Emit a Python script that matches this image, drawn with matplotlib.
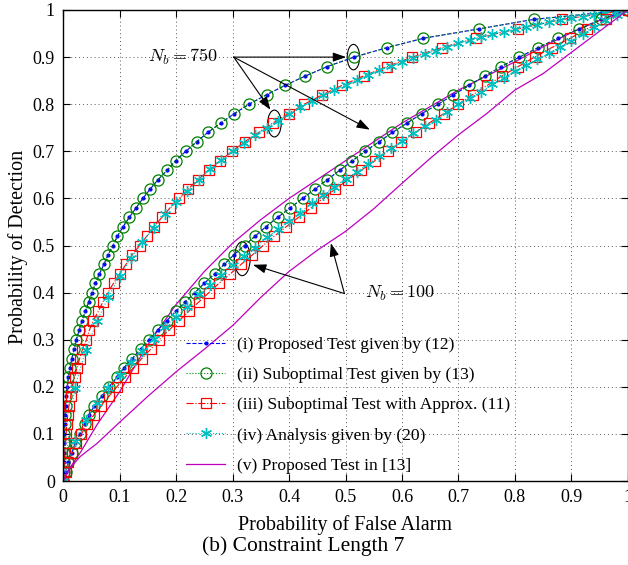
import matplotlib
matplotlib.use("Agg")
import matplotlib.pyplot as plt
from matplotlib.patches import Ellipse

plt.rcParams['font.family'] = ['Liberation Serif', 'DejaVu Serif']
plt.rcParams['mathtext.fontset'] = 'cm'

# Pd levels used by tests (i)-(iii); Pfa levels used by analysis (iv)
levels = [0.00, 0.02, 0.04, 0.06, 0.08, 0.10, 0.12, 0.14, 0.16, 0.18,
          0.20, 0.22, 0.24, 0.26, 0.28, 0.30, 0.32, 0.34, 0.36, 0.38,
          0.40, 0.42, 0.44, 0.46, 0.48, 0.50, 0.52, 0.54, 0.56, 0.58,
          0.60, 0.62, 0.64, 0.66, 0.68, 0.70, 0.72, 0.74, 0.76, 0.78,
          0.80, 0.82, 0.84, 0.86, 0.88, 0.90, 0.92, 0.94, 0.96, 0.98, 1.00]

# Nb = 750
pfa_prop_750 = [0.000, 0.0005, 0.001, 0.001, 0.0015, 0.002, 0.0025, 0.003, 0.004, 0.005,
                0.007, 0.009, 0.012, 0.015, 0.019, 0.023, 0.028, 0.033, 0.039, 0.045,
                0.051, 0.057, 0.064, 0.072, 0.079, 0.088, 0.096, 0.106, 0.117, 0.129,
                0.141, 0.154, 0.168, 0.184, 0.199, 0.217, 0.236, 0.256, 0.279, 0.303,
                0.329, 0.360, 0.393, 0.429, 0.468, 0.515, 0.573, 0.638, 0.737, 0.833, 1.000]
pfa_appr_750 = [0.000, 0.001, 0.002, 0.003, 0.004, 0.005, 0.006, 0.008, 0.010, 0.013,
                0.016, 0.020, 0.024, 0.029, 0.034, 0.041, 0.046, 0.053, 0.062, 0.070,
                0.079, 0.089, 0.100, 0.111, 0.122, 0.135, 0.148, 0.160, 0.175, 0.189,
                0.205, 0.221, 0.239, 0.258, 0.278, 0.299, 0.321, 0.346, 0.371, 0.399,
                0.427, 0.459, 0.494, 0.532, 0.574, 0.618, 0.670, 0.731, 0.806, 0.884, 1.000]
pd_anal_750 = [0.000, 0.198, 0.278, 0.340, 0.391, 0.436, 0.473, 0.507, 0.537, 0.566,
               0.593, 0.615, 0.640, 0.662, 0.681, 0.700, 0.717, 0.734, 0.750, 0.765,
               0.779, 0.793, 0.806, 0.819, 0.830, 0.841, 0.852, 0.862, 0.872, 0.881,
               0.890, 0.899, 0.907, 0.914, 0.922, 0.929, 0.936, 0.942, 0.948, 0.954,
               0.959, 0.964, 0.969, 0.974, 0.978, 0.982, 0.986, 0.990, 0.994, 0.997, 1.000]

# Nb = 100
pfa_prop_100 = [0.000, 0.004, 0.009, 0.015, 0.021, 0.029, 0.038, 0.046, 0.055, 0.068,
                0.081, 0.095, 0.107, 0.122, 0.137, 0.152, 0.167, 0.183, 0.199, 0.216,
                0.233, 0.250, 0.268, 0.285, 0.302, 0.321, 0.340, 0.359, 0.380, 0.402,
                0.424, 0.446, 0.468, 0.490, 0.512, 0.535, 0.559, 0.583, 0.609, 0.635,
                0.664, 0.691, 0.719, 0.747, 0.776, 0.808, 0.841, 0.876, 0.914, 0.953, 1.000]
pfa_appr_100 = [0.000, 0.004, 0.009, 0.016, 0.023, 0.032, 0.042, 0.054, 0.067, 0.081,
                0.095, 0.109, 0.124, 0.139, 0.155, 0.170, 0.187, 0.205, 0.222, 0.240,
                0.258, 0.276, 0.296, 0.315, 0.335, 0.354, 0.374, 0.395, 0.417, 0.439,
                0.460, 0.482, 0.505, 0.528, 0.552, 0.575, 0.599, 0.624, 0.648, 0.674,
                0.700, 0.725, 0.751, 0.777, 0.806, 0.835, 0.865, 0.898, 0.928, 0.962, 1.000]
pd_anal_100 = [0.000, 0.085, 0.130, 0.166, 0.198, 0.226, 0.253, 0.277, 0.301, 0.328,
               0.349, 0.370, 0.396, 0.416, 0.437, 0.458, 0.478, 0.495, 0.517, 0.534,
               0.552, 0.570, 0.590, 0.607, 0.624, 0.641, 0.657, 0.673, 0.690, 0.706,
               0.722, 0.739, 0.753, 0.767, 0.784, 0.800, 0.814, 0.826, 0.842, 0.856,
               0.870, 0.883, 0.895, 0.908, 0.921, 0.935, 0.950, 0.964, 0.978, 0.990, 1.000]

# proposed test in [13]
pfa_ref = [0, 0.01, 0.03, 0.06, 0.10, 0.15, 0.20, 0.25, 0.30, 0.35, 0.40, 0.45,
           0.50, 0.55, 0.60, 0.65, 0.70, 0.75, 0.80, 0.85, 0.90, 0.95, 1.0]
pd_ref_750 = [0, 0.025, 0.06, 0.12, 0.19, 0.29, 0.375, 0.445, 0.505, 0.555, 0.60, 0.64,
              0.68, 0.72, 0.76, 0.795, 0.83, 0.86, 0.89, 0.922, 0.952, 0.978, 1.0]
pd_ref_100 = [0, 0.025, 0.052, 0.08, 0.125, 0.18, 0.232, 0.28, 0.33, 0.39, 0.445, 0.49,
              0.53, 0.578, 0.632, 0.685, 0.735, 0.78, 0.83, 0.865, 0.91, 0.955, 1.0]

labels = ['(i) Proposed Test given by (12)',
          '(ii) Suboptimal Test given by (13)',
          '(iii) Suboptimal Test with Approx. (11)',
          '(iv) Analysis given by (20)',
          '(v) Proposed Test in [13]']

blue, green, red = (0, 0, 1), (0, 0.5, 0), (1, 0, 0)
cyan, magenta = (0, 0.75, 0.75), (0.75, 0, 0.75)
asterisk = (6, 2, 0)

fig = plt.figure(figsize=(6.28, 5.65), dpi=100)
ax = fig.add_axes([63.3 / 628, 1 - 481 / 565, 564.5 / 628, 471 / 565])

for pfa_p, pfa_a, pd_a, pd_r, first in [(pfa_prop_750, pfa_appr_750, pd_anal_750, pd_ref_750, True),
                                        (pfa_prop_100, pfa_appr_100, pd_anal_100, pd_ref_100, False)]:
    ax.plot(pfa_p, levels, '--', color=blue, marker='.', ms=4, lw=0.8,
            label=labels[0] if first else None)
    ax.plot(pfa_p, levels, ':', color=green, marker='o', ms=8, mfc='none', mew=0.9, lw=0.8,
            label=labels[1] if first else None)
    ax.plot(pfa_a, levels, '-.', color=red, marker='s', ms=7, mfc='none', mew=0.9, lw=0.8,
            label=labels[2] if first else None)
    ax.plot(levels, pd_a, ':', color=cyan, marker=asterisk, ms=8, mew=1.0, lw=0.8,
            label=labels[3] if first else None)
    ax.plot(pfa_ref, pd_r, '-', color=magenta, lw=0.9,
            label=labels[4] if first else None)

ax.set_xlim(0, 1)
ax.set_ylim(0, 1)
ticks = [0, 0.1, 0.2, 0.3, 0.4, 0.5, 0.6, 0.7, 0.8, 0.9, 1]
ticklabels = ['0', '0.1', '0.2', '0.3', '0.4', '0.5', '0.6', '0.7', '0.8', '0.9', '1']
ax.set_xticks(ticks)
ax.set_xticklabels(ticklabels)
ax.set_yticks(ticks)
ax.set_yticklabels(ticklabels)
ax.tick_params(direction='in', top=True, right=True, labelsize=13, length=5, width=0.8, pad=6)
ax.grid(True, linestyle=(0, (1, 3)), color='0.35', lw=0.7)
for s in ax.spines.values():
    s.set_linewidth(1.0)

# annotations
arrow = dict(arrowstyle='-|>,head_length=0.8,head_width=0.28', color='k', lw=0.8,
             shrinkA=0, shrinkB=0)
ax.text(0.273, 0.9, r'$N_b = 750$', fontsize=13, ha='right', va='center')
for tip in [(0.501, 0.9), (0.367, 0.788), (0.543, 0.746)]:
    ax.annotate('', xy=tip, xytext=(0.302, 0.9), arrowprops=arrow)
ax.add_patch(Ellipse((0.514, 0.9), 0.022, 0.054, fill=False, ec='k', lw=0.8))
ax.add_patch(Ellipse((0.374, 0.759), 0.024, 0.057, fill=False, ec='k', lw=0.8))

ax.text(0.535, 0.398, r'$N_b = 100$', fontsize=13, ha='left', va='center')
for tip in [(0.474, 0.505), (0.336, 0.459)]:
    ax.annotate('', xy=tip, xytext=(0.498, 0.398), arrowprops=arrow)
ax.add_patch(Ellipse((0.317, 0.472), 0.028, 0.072, fill=False, ec='k', lw=0.8))

ax.legend(loc='center left', bbox_to_anchor=(0.217, 0.161), frameon=False,
          fontsize=12.6, borderpad=0, borderaxespad=0, handlelength=2.26,
          handletextpad=0.68, labelspacing=0.8, numpoints=1)

fig.text(18 / 628, 1 - 247 / 565, 'Probability of Detection', rotation=90,
         ha='center', va='center', fontsize=14.5)
fig.text(345 / 628, 1 - 525 / 565, 'Probability of False Alarm',
         ha='center', va='center', fontsize=14.5)
fig.text(303 / 628, 1 - 546 / 565, '(b) Constraint Length 7',
         ha='center', va='center', fontsize=15.5)

fig.savefig('out.png', dpi=100)
